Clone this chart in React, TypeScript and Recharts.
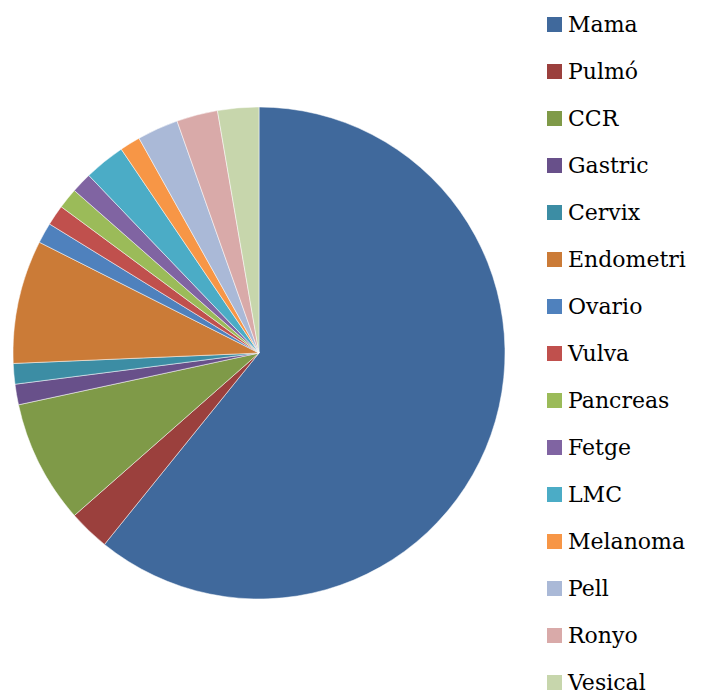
import { PieChart, Pie, Cell } from "recharts";

const tumors = [
  "Mama",
  "Pulmó",
  "CCR",
  "Gastric",
  "Cervix",
  "Endometri",
  "Ovario",
  "Vulva",
  "Pancreas",
  "Fetge",
  "LMC",
  "Melanoma",
  "Pell",
  "Ronyo",
  "Vesical",
];
const cases = [45, 2, 6, 1, 1, 6, 1, 1, 1, 1, 2, 1, 2, 2, 2];
const sliceColors = [
  "#40699C",
  "#9B403D",
  "#7F9A48",
  "#68508A",
  "#3C8DA4",
  "#CB7B37",
  "#4F81BD",
  "#C0504D",
  "#9BBB59",
  "#8064A2",
  "#4BACC6",
  "#F79646",
  "#AAB9D7",
  "#D9AAA9",
  "#C7D6AC",
];

const data = tumors.map((name, i) => ({ name, value: cases[i] }));

const ChartLegend = () => (
  <div
    style={{
      position: "absolute",
      left: 539,
      top: -7,
      width: 154,
      fontFamily: "'DejaVu Serif', serif",
      fontSize: 22,
      color: "#000",
    }}
  >
    {tumors.map((name, i) => (
      <div
        key={name}
        style={{ display: "flex", alignItems: "center", height: 47 }}
      >
        <span
          style={{
            display: "inline-block",
            width: 15,
            height: 15,
            background: sliceColors[i],
            marginRight: 6,
          }}
        />
        <span>{name}</span>
      </div>
    ))}
  </div>
);

export default function App() {
  return (
    <div style={{ position: "relative", width: 693, height: 686 }}>
      <PieChart
        width={693}
        height={686}
        margin={{ top: 0, right: 0, bottom: 0, left: 0 }}
      >
        <Pie
          data={data}
          dataKey="value"
          nameKey="name"
          cx={251}
          cy={345}
          outerRadius={246}
          startAngle={90}
          endAngle={-270}
          stroke="#ffffff"
          strokeWidth={0.5}
          isAnimationActive={false}
        >
          {data.map((entry, index) => (
            <Cell key={`cell-${index}`} fill={sliceColors[index]} />
          ))}
        </Pie>
      </PieChart>
      <ChartLegend />
    </div>
  );
}
